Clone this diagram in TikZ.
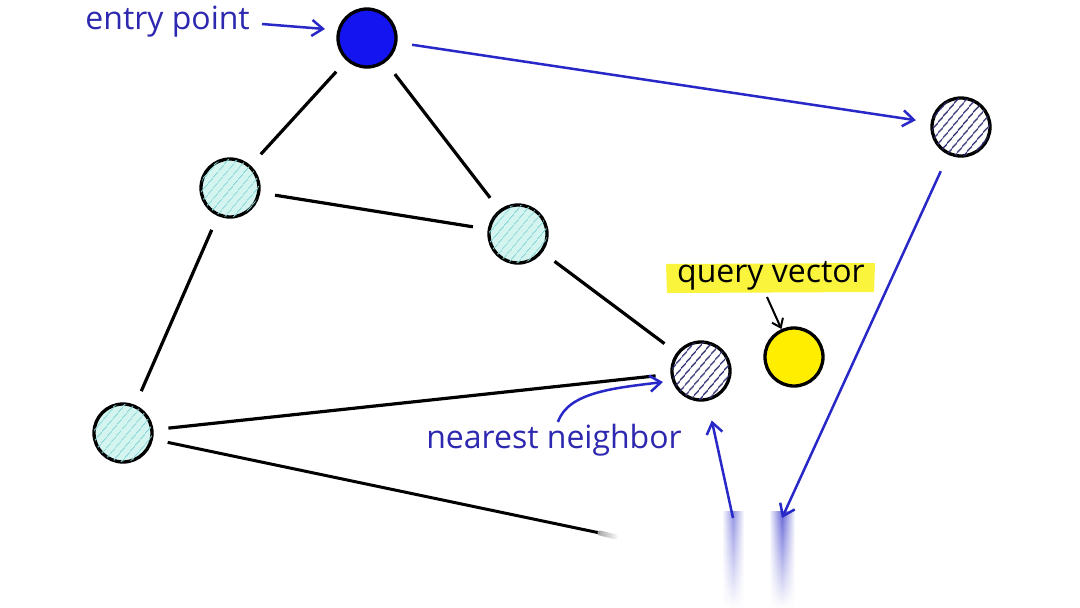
\documentclass[tikz,border=0pt]{standalone}
\usepackage{fontspec}
\setmainfont{Open Sans}
\usetikzlibrary{arrows.meta,patterns.meta,fadings}
\definecolor{txtblue}{RGB}{45,40,175}
\definecolor{arrblue}{RGB}{40,40,200}
\definecolor{entryblue}{RGB}{20,20,240}
\definecolor{navy}{RGB}{40,40,110}
\definecolor{paleCyan}{RGB}{212,244,240}
\definecolor{hatchCyan}{RGB}{125,212,212}
\definecolor{qyellow}{RGB}{255,238,0}
\definecolor{hlyellow}{RGB}{250,245,60}
\tikzset{
  vtx/.style={circle, draw=black, line width=3.3pt, minimum size=58pt, inner sep=0pt},
  entryv/.style={vtx, fill=entryblue},
  cyanv/.style={vtx, fill=paleCyan, postaction={pattern={Lines[angle=50,distance=6.5pt,line width=1pt]}, pattern color=hatchCyan}},
  navyv/.style={vtx, fill=white, postaction={pattern={Lines[angle=50,distance=6.5pt,line width=1.4pt]}, pattern color=navy}},
  queryv/.style={vtx, fill=qyellow},
  edge/.style={line width=3.2pt, black, shorten >=15pt, shorten <=15pt},
  barrow/.style={line width=2.5pt, arrblue, -{Straight Barb[length=11pt,width=16pt,line width=2.5pt]}},
  lbl/.style={font=\fontsize{32}{36}\selectfont, text=txtblue, inner sep=2pt},
  fadebar/.style={left color=white, right color=white, middle color=#1, path fading=south},
}
\begin{document}
\begin{tikzpicture}[x=1pt,y=-1pt]
\useasboundingbox (0,0) rectangle (1080,608);
\fill[white] (0,0) rectangle (1080,608);
% nodes
\node[entryv] (E) at (367,38) {};
\node[navyv] (R) at (961,127) {};
\node[cyanv] (A) at (230,188) {};
\node[cyanv] (B) at (518,234) {};
\node[navyv] (N) at (701,371) {};
\node[queryv] (Q) at (794,357) {};
\node[cyanv] (L) at (123,433) {};
% faded bottom ends
\coordinate (bend) at (600,533);
\coordinate (bfade) at (616,537);
\coordinate (up0) at (733,518);
\coordinate (dn1) at (782,518);
\shade[fadebar=arrblue!50] (722,512) rectangle (744,608);
\shade[fadebar=arrblue!70] (769,512) rectangle (795,608);
% black edges
\draw[edge] (E) -- (A);
\draw[edge] (E) -- (B);
\draw[edge] (A) -- (B);
\draw[edge] (A) -- (L);
\draw[edge] (B) -- (N);
\draw[edge] (L) -- (N);
\draw[line width=3pt, shorten <=15pt] (L) -- (bend);
\draw[line width=5pt, black!35, path fading=east, line cap=round] (bend) -- (bfade);
% blue arrows
\draw[barrow, shorten <=15pt, shorten >=15pt] (E) -- (R);
\draw[barrow, shorten <=18pt] (R) -- (dn1);
\draw[barrow, shorten >=20pt] (up0) -- (N);
% labels
\node[lbl, anchor=east] (tE) at (252,22) {entry point};
\draw[barrow] (262,24) coordinate (eS) -- (325,29) coordinate (eT);
\node[lbl] (tN) at (554,440) {nearest neighbor};
\draw[barrow] (558,422) .. controls (568,392) and (615,388) .. (663,382);
\fill[hlyellow] (666,264) -- (875,263) -- (874,292) -- (667,293) -- cycle;
\node[font=\fontsize{32}{36}\selectfont, text=black, inner sep=2pt] (tQ) at (771,276) {query vector};
\draw[line width=2pt, black, -{Straight Barb[length=8pt,width=12pt,line width=2pt]}] (767,297) -- (Q);
\end{tikzpicture}
\end{document}
